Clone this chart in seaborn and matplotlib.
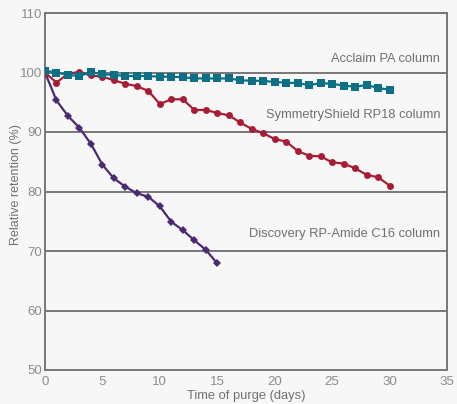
import matplotlib
matplotlib.use("Agg")
import matplotlib.pyplot as plt
import seaborn as sns
import pandas as pd

days_discovery = list(range(0, 16))
discovery = [100.0, 95.3, 92.7, 90.7, 88.0, 84.5, 82.2, 80.8, 79.7, 79.1, 77.5, 74.9, 73.5, 71.8, 70.2, 67.9]

days_30 = list(range(0, 31))
symmetry = [100.0, 98.3, 99.8, 100.1, 99.5, 99.3, 98.7, 98.1, 97.7, 96.9, 94.7, 95.5, 95.5, 93.7, 93.7,
            93.2, 92.8, 91.6, 90.5, 89.8, 88.8, 88.4, 86.8, 86.0, 85.9, 84.9, 84.7, 83.9, 82.8, 82.4, 81.0]
acclaim = [100.3, 100.0, 99.6, 99.4, 100.1, 99.7, 99.6, 99.4, 99.4, 99.4, 99.3, 99.3, 99.2, 99.0, 99.0,
           99.0, 99.0, 98.7, 98.6, 98.6, 98.4, 98.3, 98.2, 97.9, 98.2, 98.1, 97.8, 97.6, 97.9, 97.4, 97.1]

labels = ["Acclaim PA column", "SymmetryShield RP18 column", "Discovery RP-Amide C16 column"]
label_y = [102.2, 92.9, 72.9]

x_ticks = [0, 5, 10, 15, 20, 25, 30, 35]
y_ticks = [50, 60, 70, 80, 90, 100, 110]

sns.set_theme(style="white")
plt.rcParams['font.family'] = ['Liberation Sans', 'DejaVu Sans']

bg = "#f7f7f7"
fig = plt.figure(figsize=(4.57, 4.04), dpi=100, facecolor=bg)
ax = fig.add_axes([45/457, 1-370/404, (447-45)/457, (370-13)/404])
ax.set_facecolor(bg)

grid_c = "#777777"
for yv in y_ticks[1:]:
    ax.axhline(yv, color=grid_c, lw=1.4, zorder=1)

df_d = pd.DataFrame({"day": days_discovery, "val": discovery})
df_s = pd.DataFrame({"day": days_30, "val": symmetry})
df_a = pd.DataFrame({"day": days_30, "val": acclaim})

sns.lineplot(data=df_d, x="day", y="val", ax=ax, color="#4b2a72", lw=1.6,
             marker="D", markersize=4.5, markeredgewidth=0, zorder=3)
sns.lineplot(data=df_s, x="day", y="val", ax=ax, color="#a81d36", lw=1.6,
             marker="o", markersize=5, markeredgewidth=0, zorder=3)
sns.lineplot(data=df_a, x="day", y="val", ax=ax, color="#0d6f84", lw=1.6,
             marker="s", markersize=5.5, markeredgewidth=0, zorder=4)

for t, yv in zip(labels, label_y):
    ax.text(34.4, yv, t, ha="right", va="center", fontsize=9.3, color="#707070")

ax.set_xlim(0, 35)
ax.set_ylim(50, 110)
ax.set_xticks(x_ticks)
ax.set_yticks(y_ticks)
ax.tick_params(axis="x", direction="in", length=4, color=grid_c, labelsize=9.5,
               labelcolor="#8c8c8c", pad=4, width=1)
ax.tick_params(axis="y", length=0, labelsize=9.5, labelcolor="#8c8c8c", pad=2)
for s in ["left", "right", "bottom", "top"]:
    ax.spines[s].set_color(grid_c)
    ax.spines[s].set_linewidth(1.4)
ax.set_xlabel("Time of purge (days)", fontsize=9.3, color="#707070", labelpad=2)
ax.set_ylabel("Relative retention (%)", fontsize=9, color="#707070", labelpad=3)
ax.yaxis.set_label_coords(-0.057, 0.52)

fig.savefig("out.png", dpi=100, facecolor=bg)
